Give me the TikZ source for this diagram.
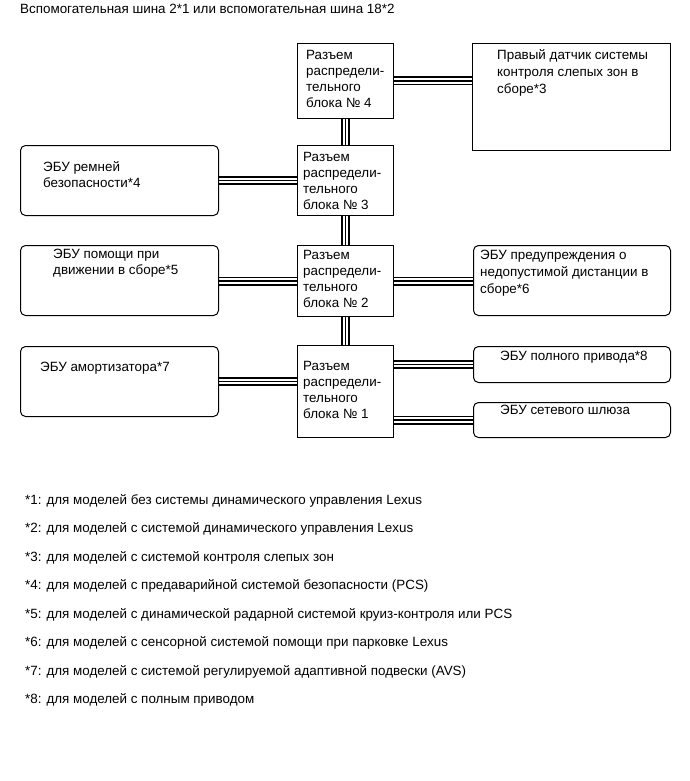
\documentclass[tikz,border=0pt]{standalone}
\usepackage{fontspec}
\setmainfont{Liberation Sans}
\usetikzlibrary{backgrounds,calc}
\tikzset{
  box/.style={draw=black, line width=1, fill=white, inner sep=0, anchor=north west},
  rbox/.style={box, rounded corners=5},
  txt/.style={anchor=north west, inner sep=0, align=left, font=\fontsize{13.4}{16}\selectfont},
  txtw/.style={txt, font=\fontsize{13.4}{17}\selectfont},
  busout/.style={draw=black, line width=9},
  busmid/.style={draw=white, line width=5.4},
  busin/.style={draw=black, line width=1.8}
}
\begin{document}
\begin{tikzpicture}[x=1pt, y=-1pt]
\useasboundingbox (0,0) rectangle (690,781);

% title
\node[txt] (title) at (20,1.8) {\strut Вспомогательная шина 2*1 или вспомогательная шина 18*2};

% boxes
\node[box, minimum width=96, minimum height=75] (db4) at (297,43) {};
\node[box, minimum width=198, minimum height=107] (sensor) at (472,43) {};
\node[rbox, minimum width=198, minimum height=70] (belt) at (20,145) {};
\node[box, minimum width=96, minimum height=70] (db3) at (297,145) {};
\node[rbox, minimum width=198, minimum height=70] (assist) at (20,245) {};
\node[box, minimum width=96, minimum height=71] (db2) at (297,245) {};
\node[rbox, minimum width=197, minimum height=70] (warn) at (473,245) {};
\node[rbox, minimum width=198, minimum height=70] (amort) at (20,346) {};
\node[box, minimum width=96, minimum height=92] (db1) at (297,345) {};
\node[rbox, minimum width=197, minimum height=36] (awd) at (473,346) {};
\node[rbox, minimum width=197, minimum height=35] (gw) at (473,402) {};

% connectors
\begin{scope}[on background layer]
\foreach \s in {busout, busmid, busin} {
  \draw[\s] (db4.east) -- (db4.east -| sensor.west);
  \draw[\s] (db4.south) -- (db3.north);
  \draw[\s] (db3.south) -- (db2.north);
  \draw[\s] (db2.south) -- (db1.north);
  \draw[\s] (belt.east) -- (belt.east -| db3.west);
  \draw[\s] (db2.west) -- (db2.west -| assist.east);
  \draw[\s] (db2.east) -- (db2.east -| warn.west);
  \draw[\s] (amort.east) -- (amort.east -| db1.west);
  \draw[\s] (awd.west -| db1.east) -- (awd.west);
  \draw[\s] (gw.west -| db1.east) -- (gw.west);
}
\end{scope}

% texts
\node[txt] (t4) at (306,47.8) {\strut Разъем\\распредели-\\тельного\\блока № 4};
\node[txtw] (tsensor) at (497,47.8) {\strut Правый датчик системы\\контроля слепых зон в\\сборе*3};
\node[txt] (tbelt) at (43,159.8) {\strut ЭБУ ремней\\безопасности*4};
\node[txt] (t3) at (303,149.8) {\strut Разъем\\распредели-\\тельного\\блока № 3};
\node[txt] (tassist) at (53,246.8) {\strut ЭБУ помощи при\\движении в сборе*5};
\node[txt] (t2) at (303,247.8) {\strut Разъем\\распредели-\\тельного\\блока № 2};
\node[txtw] (twarn) at (480,247.8) {\strut ЭБУ предупреждения о\\недопустимой дистанции в\\сборе*6};
\node[txt] (tamort) at (40,359.8) {\strut ЭБУ амортизатора*7};
\node[txt] (t1) at (303,358.8) {\strut Разъем\\распредели-\\тельного\\блока № 1};
\node[txt] (tawd) at (500,348.8) {\strut ЭБУ полного привода*8};
\node[txt] (tgw) at (500,402.8) {\strut ЭБУ сетевого шлюза};

% footnotes
\node[txt] (f1) at (25,492.8) {\strut *1: для моделей без системы динамического управления Lexus};
\node[txt] (f2) at (25,520.8) {\strut *2: для моделей с системой динамического управления Lexus};
\node[txt] (f3) at (25,549.8) {\strut *3: для моделей с системой контроля слепых зон};
\node[txt] (f4) at (25,577.8) {\strut *4: для моделей с предаварийной системой безопасности (PCS)};
\node[txt] (f5) at (25,606.8) {\strut *5: для моделей с динамической радарной системой круиз-контроля или PCS};
\node[txt] (f6) at (25,634.8) {\strut *6: для моделей с сенсорной системой помощи при парковке Lexus};
\node[txt] (f7) at (25,663.8) {\strut *7: для моделей с системой регулируемой адаптивной подвески (AVS)};
\node[txt] (f8) at (25,691.8) {\strut *8: для моделей с полным приводом};
\end{tikzpicture}
\end{document}
